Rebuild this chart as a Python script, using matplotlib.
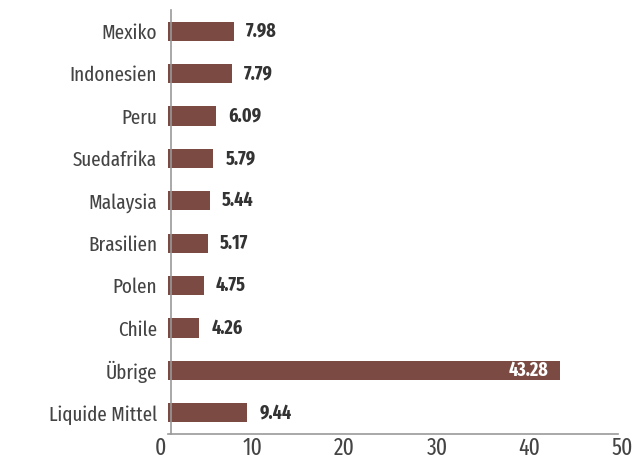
import matplotlib
matplotlib.use("Agg")
import matplotlib.pyplot as plt
from matplotlib.transforms import Bbox, TransformedBbox

categories = ["Mexiko", "Indonesien", "Peru", "Suedafrika", "Malaysia",
              "Brasilien", "Polen", "Chile", "Übrige", "Liquide Mittel"]
values = [7.98, 7.79, 6.09, 5.79, 5.44, 5.17, 4.75, 4.26, 43.28, 9.44]
xticks = [0, 10, 20, 30, 40, 50]

plt.rcParams['font.family'] = ['Fira Sans Extra Condensed', 'DejaVu Sans']

bar_color = "#7b4a42"
text_color = "#444444"

W, H = 640, 470
fig = plt.figure(figsize=(6.4, 4.7), dpi=100)
ax = fig.add_axes([160 / W, 36 / H, 462 / W, 424 / H])

ypos = list(range(len(categories)))
bars = ax.barh(ypos, values, height=0.45, color=bar_color)
ax.set_ylim(len(categories) - 0.5, -0.5)
ax.set_xlim(0, 50)

# left spine sits slightly inside the axis origin; bars start at the spine
ax.spines['left'].set_position(('outward', -8))
clip = TransformedBbox(Bbox([[8 / 462, 0], [1, 1]]), ax.transAxes)
for b in bars:
    b.set_clip_box(clip)

ax.set_yticks(ypos)
ax.set_yticklabels(categories, fontsize=15, color=text_color)
ax.set_xticks(xticks)
ax.set_xticklabels([str(t) for t in xticks], fontsize=17, color=text_color)
ax.tick_params(axis='both', length=0)
ax.tick_params(axis='y', pad=10)
ax.tick_params(axis='x', pad=2)

for s in ["top", "right"]:
    ax.spines[s].set_visible(False)
for s in ["left", "bottom"]:
    ax.spines[s].set_color("#999999")
    ax.spines[s].set_linewidth(1.2)
ax.spines['bottom'].set_bounds(0.87, 49.6)

for y, v in zip(ypos, values):
    label = f"{v:.2f}"
    if v > 30:
        ax.text(v - 1.3, y, label, ha="right", va="center", color="white",
                fontsize=14, fontweight="bold")
    else:
        ax.text(v + 1.3, y, label, ha="left", va="center", color="#333333",
                fontsize=14, fontweight="bold")

fig.savefig("out.png", dpi=100)
